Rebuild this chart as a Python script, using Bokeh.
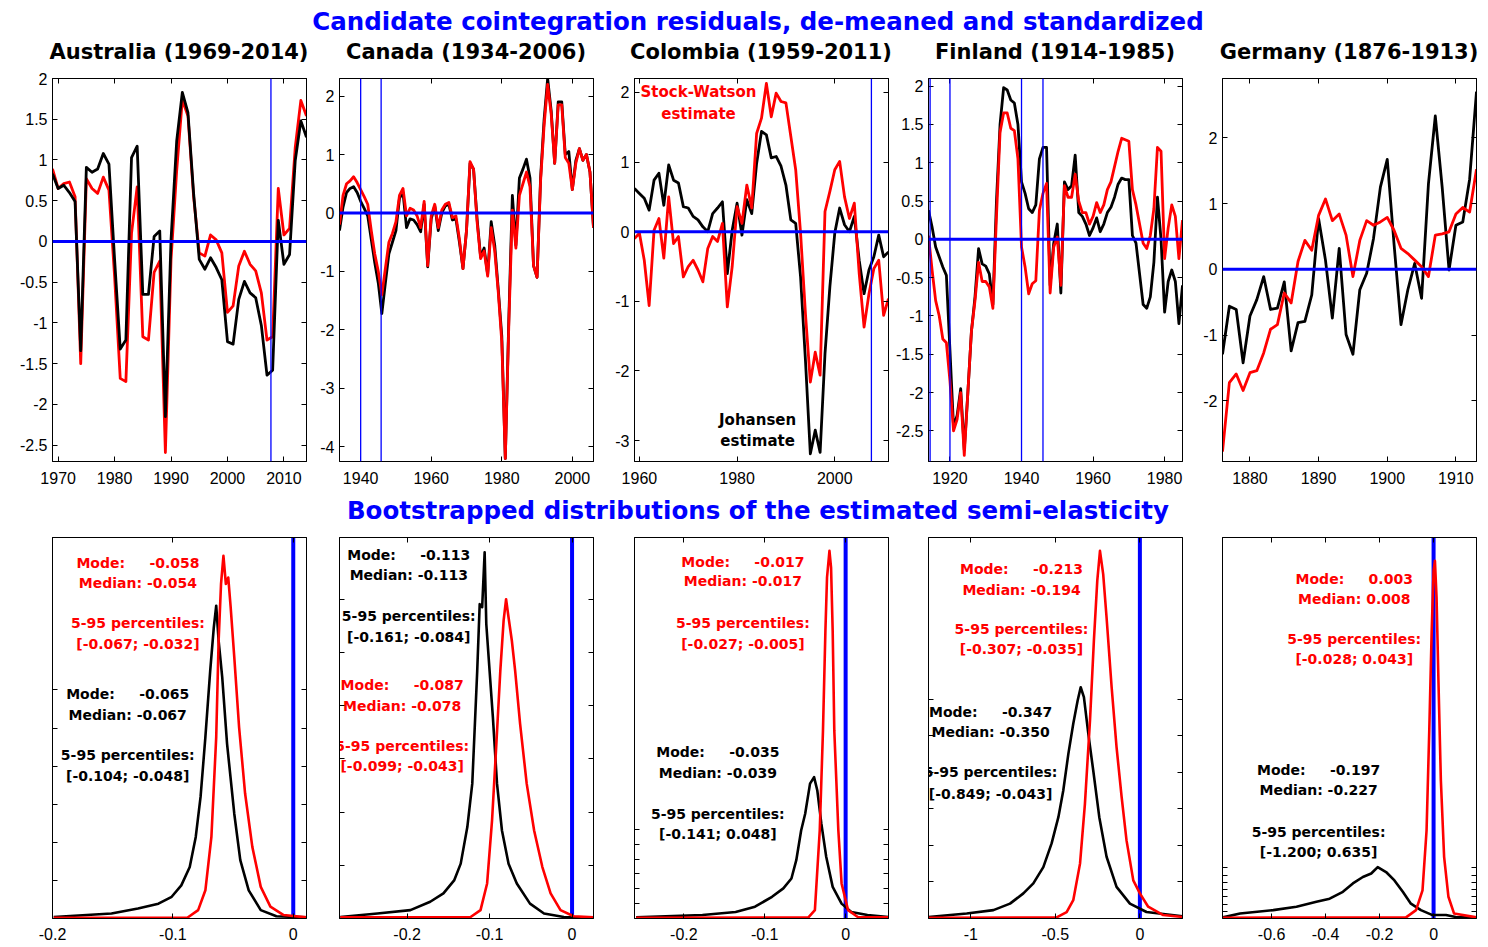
from bokeh.plotting import figure
from bokeh.models import Span, FixedTicker, LinearAxis, Div, ColumnDataSource, Range1d
from bokeh.layouts import column, row
from bokeh.embed import file_html
from bokeh.resources import INLINE
from bokeh.core.properties import value

# ---------------------------------------------------------------- titles
main_title = "Candidate cointegration residuals, de-meaned and standardized"
sub_title = "Bootstrapped distributions of the estimated semi-elasticity"
panel_titles = ["Australia (1969-2014)", "Canada (1934-2006)", "Colombia (1959-2011)",
                "Finland (1914-1985)", "Germany (1876-1913)"]

# ---------------------------------------------------------------- top row data
aus_years = list(range(1969, 2015))
aus_johansen = [0.83, 0.65, 0.69, 0.60, 0.49, -1.34, 0.91, 0.85, 0.89, 1.08, 0.95, -0.22,
                -1.32, -1.21, 1.03, 1.17, -0.65, -0.65, 0.06, 0.13, -2.15, 0.02, 1.23, 1.83,
                1.58, 0.59, -0.22, -0.34, -0.20, -0.32, -0.47, -1.23, -1.26, -0.71, -0.49,
                -0.63, -0.69, -1.03, -1.64, -1.58, 0.26, -0.28, -0.16, 0.99, 1.48, 1.28]
aus_stock_watson = [0.89, 0.65, 0.71, 0.73, 0.55, -1.50, 0.77, 0.65, 0.59, 0.79, 0.63, -0.43,
                    -1.68, -1.72, 0.10, 0.67, -1.17, -1.21, -0.38, -0.24, -2.59, -0.22, 0.87,
                    1.74, 1.54, 0.55, -0.14, -0.18, 0.08, 0.02, -0.14, -0.87, -0.79, -0.30,
                    -0.12, -0.28, -0.36, -0.63, -1.21, -1.17, 0.65, 0.08, 0.16, 1.15, 1.73, 1.54]
aus_breaks = [2007.7]
aus_xticks = [1970, 1980, 1990, 2000, 2010]
aus_yticks = [-2.5, -2, -1.5, -1, -0.5, 0, 0.5, 1, 1.5, 2]
aus_ylabels = ["-2.5", "-2", "-1.5", "-1", "-0.5", "0", "0.5", "1", "1.5", "2"]

can_years = list(range(1934, 2007))
can_johansen = [-0.30, 0.10, 0.35, 0.42, 0.45, 0.35, 0.20, 0.08, -0.05, -0.45,
                -0.85, -1.20, -1.72, -1.20, -0.70, -0.50, -0.30, 0.25, 0.35, -0.25,
                -0.10, -0.12, -0.20, -0.32, 0.15, -0.92, -0.10, 0.12, -0.30, 0.00,
                0.12, 0.15, -0.12, -0.10, -0.50, -0.95, -0.30, 0.85, 0.75, -0.10,
                -0.75, -0.60, -1.05, -0.15, -0.55, -1.30, -2.10, -4.20, -1.80, 0.30,
                -0.55, 0.60, 0.75, 0.92, 0.60, -0.90, -1.10, 0.60, 1.60, 2.30,
                1.75, 0.85, 1.90, 1.90, 1.00, 1.05, 0.40, 0.90, 1.10, 0.90,
                1.00, 0.70, -0.25]
can_stock_watson = [-0.20, 0.30, 0.50, 0.55, 0.62, 0.52, 0.40, 0.28, 0.15, -0.30,
                    -0.70, -1.00, -1.40, -0.95, -0.50, -0.35, -0.15, 0.30, 0.42, -0.05,
                    0.08, 0.05, -0.05, -0.25, 0.20, -0.90, -0.05, 0.15, -0.25, 0.05,
                    0.15, 0.18, -0.08, -0.05, -0.45, -0.95, -0.30, 0.88, 0.75, -0.15,
                    -0.78, -0.65, -1.08, -0.25, -0.65, -1.35, -2.20, -4.20, -1.90, 0.05,
                    -0.60, 0.30, 0.50, 0.70, 0.45, -0.90, -1.10, 0.55, 1.50, 2.20,
                    1.70, 0.85, 1.85, 1.85, 0.95, 0.85, 0.40, 0.85, 1.10, 0.90,
                    1.00, 0.70, -0.25]
can_breaks = [1940.0, 1945.8]
can_xticks = [1940, 1960, 1980, 2000]
can_yticks = [-4, -3, -2, -1, 0, 1, 2]
can_ylabels = ["-4", "-3", "-2", "-1", "0", "1", "2"]

col_years = list(range(1959, 2012))
col_johansen = [0.62, 0.55, 0.48, 0.31, 0.74, 0.84, 0.38, 0.96, 0.74, 0.70,
                0.36, 0.34, 0.22, 0.17, 0.07, 0.00, 0.26, 0.34, 0.43, -0.60,
                0.02, 0.41, -0.05, 0.46, 0.26, 0.98, 1.44, 1.39, 1.06, 1.08,
                0.94, 0.67, 0.17, 0.12, -0.65, -1.85, -3.19, -2.85, -3.17, -1.75,
                -0.79, -0.02, 0.34, 0.10, 0.00, 0.22, -0.41, -0.89, -0.55, -0.36,
                -0.05, -0.36, -0.29]
col_stock_watson = [-0.10, -0.02, -0.41, -1.06, 0.02, 0.19, -0.38, 0.50, -0.17, -0.07,
                    -0.65, -0.50, -0.41, -0.55, -0.72, -0.24, -0.07, -0.14, 0.12, -1.08,
                    -0.50, 0.36, 0.12, 0.67, 0.34, 1.41, 1.63, 2.13, 1.65, 1.99,
                    1.87, 1.85, 1.37, 0.89, -0.02, -1.18, -2.16, -1.73, -2.06, 0.29,
                    0.58, 0.89, 1.01, 0.50, 0.19, 0.41, -0.60, -1.37, -0.89, -0.53,
                    -0.41, -1.20, -0.96]
col_breaks = [2007.5]
col_xticks = [1960, 1980, 2000]
col_yticks = [-3, -2, -1, 0, 1, 2]
col_ylabels = ["-3", "-2", "-1", "0", "1", "2"]

fin_years = list(range(1914, 1986))
fin_johansen = [0.38, 0.16, -0.10, -0.23, -0.36, -0.47, -1.45, -2.45, -2.30, -1.95,
                -2.75, -2.00, -1.20, -0.75, -0.12, -0.32, -0.35, -0.45, -0.85, 0.50,
                1.50, 1.98, 1.95, 1.82, 1.78, 1.50, 0.75, 0.60, 0.40, 0.35,
                0.45, 1.05, 1.20, 1.20, -0.60, -0.05, 0.20, -0.70, 0.75, 0.65,
                0.70, 1.10, 0.35, 0.30, 0.20, 0.05, 0.15, 0.28, 0.10, 0.20,
                0.35, 0.42, 0.55, 0.72, 0.80, 0.78, 0.78, 0.05, -0.05, -0.45,
                -0.85, -0.90, -0.75, -0.30, 0.55, 0.00, -0.95, -0.55, -0.40, -0.55,
                -1.10, -0.60]
fin_stock_watson = [0.05, -0.40, -0.80, -1.00, -1.30, -1.35, -1.85, -2.50, -2.35, -2.00,
                    -2.82, -2.00, -1.20, -0.80, -0.30, -0.55, -0.55, -0.62, -0.90, 0.30,
                    1.40, 1.65, 1.65, 1.45, 1.42, 1.05, -0.10, -0.36, -0.71, -0.58,
                    -0.54, 0.38, 0.60, 0.73, -0.70, -0.10, 0.03, -0.60, 0.70, 0.55,
                    0.55, 0.85, 0.50, 0.35, 0.35, 0.20, 0.30, 0.48, 0.35, 0.45,
                    0.65, 0.75, 0.95, 1.15, 1.32, 1.30, 1.28, 0.65, 0.45, 0.20,
                    -0.05, -0.12, 0.05, 0.40, 1.20, 1.15, -0.25, 0.15, 0.45, 0.30,
                    -0.25, 0.25]
fin_breaks = [1914.45, 1920.0, 1940.0, 1946.0]
fin_xticks = [1920, 1940, 1960, 1980]
fin_yticks = [-2.5, -2, -1.5, -1, -0.5, 0, 0.5, 1, 1.5, 2]
fin_ylabels = ["-2.5", "-2", "-1.5", "-1", "-0.5", "0", "0.5", "1", "1.5", "2"]

ger_years = list(range(1876, 1914))
ger_johansen = [-1.29, -0.56, -0.61, -1.42, -0.71, -0.46, -0.11, -0.61, -0.59, -0.19,
                -1.24, -0.81, -0.79, -0.39, 0.77, 0.14, -0.74, 0.32, -0.99, -1.29,
                -0.31, -0.06, 0.47, 1.25, 1.67, 0.37, -0.84, -0.31, 0.09, -0.44,
                1.30, 2.33, 1.25, -0.01, 0.67, 0.72, 1.37, 2.70]
ger_stock_watson = [-2.77, -1.72, -1.59, -1.84, -1.57, -1.54, -1.27, -0.91, -0.84, -0.36,
                    -0.51, 0.12, 0.44, 0.29, 0.82, 1.07, 0.74, 0.84, 0.52, -0.11,
                    0.44, 0.74, 0.67, 0.72, 0.79, 0.59, 0.32, 0.24, 0.14, 0.04,
                    -0.11, 0.52, 0.54, 0.57, 0.84, 0.94, 0.87, 1.52]
ger_breaks = []
ger_xticks = [1880, 1890, 1900, 1910]
ger_yticks = [-2, -1, 0, 1, 2]
ger_ylabels = ["-2", "-1", "0", "1", "2"]

top_xranges = [(1969, 2014), (1934, 2006), (1959, 2011), (1914, 1985), (1876, 1913)]
top_yranges = [(-2.7, 2.0), (-4.25, 2.3), (-3.3, 2.2), (-2.9, 2.1), (-2.92, 2.9)]

# series-name labels drawn inside the Colombia panel
col_labels_sw = ["Stock-Watson", "estimate"]
col_labels_sw_pos = (1972.1, [2.0, 1.69])
col_labels_jo = ["Johansen", "estimate"]
col_labels_jo_pos = (1984.2, [-2.71, -3.01])

# ---------------------------------------------------------------- bottom row data
# semi-elasticity value (x) and bootstrap frequency in % of panel height (y)
aus_boot_jo_x = [-0.199, -0.151, -0.129, -0.112, -0.101, -0.093, -0.086, -0.081, -0.077, -0.073,
                 -0.069, -0.066, -0.064, -0.062, -0.059, -0.055, -0.049, -0.044, -0.037, -0.027,
                 -0.014, 0.011]
aus_boot_jo_y = [0.4, 1.3, 2.6, 3.9, 5.7, 8.7, 13.5, 21.4, 31.9, 47.6,
                 65.0, 76.4, 82.1, 72.9, 63.3, 45.9, 27.5, 15.3, 7.4, 2.2, 0.6, 0.3]
aus_boot_sw_x = [-0.199, -0.088, -0.079, -0.073, -0.068, -0.064, -0.062, -0.060, -0.058, -0.056,
                 -0.054, -0.052, -0.049, -0.045, -0.040, -0.034, -0.027, -0.019, -0.008, 0.011]
aus_boot_sw_y = [0.2, 0.2, 2.2, 7.4, 21.4, 47.6, 72.9, 87.8, 95.2, 87.8,
                 89.5, 81.7, 68.6, 50.2, 32.8, 18.8, 8.3, 3.1, 0.9, 0.3]

can_boot_jo_x = [-0.281, -0.236, -0.196, -0.172, -0.156, -0.143, -0.135, -0.127, -0.121, -0.115,
                 -0.112, -0.109, -0.106, -0.104, -0.100, -0.096, -0.091, -0.085, -0.077, -0.067,
                 -0.051, -0.034, -0.010, 0.026]
can_boot_jo_y = [0.4, 1.3, 2.2, 4.4, 6.6, 10.0, 14.4, 24.0, 35.4, 65.0,
                 82.5, 81.7, 96.1, 77.3, 65.0, 52.8, 35.4, 23.1, 14.4, 9.2,
                 3.9, 1.3, 0.4, 0.3]
can_boot_sw_x = [-0.281, -0.123, -0.111, -0.103, -0.097, -0.092, -0.087, -0.083, -0.080, -0.077,
                 -0.073, -0.069, -0.063, -0.055, -0.046, -0.036, -0.026, -0.014, 0.002, 0.026]
can_boot_sw_y = [0.3, 0.4, 2.2, 9.2, 25.8, 45.0, 65.0, 78.2, 83.8, 79.0,
                 72.9, 65.0, 51.1, 35.4, 23.1, 13.5, 6.6, 2.2, 0.6, 0.3]

col_boot_jo_x = [-0.259, -0.177, -0.136, -0.112, -0.091, -0.077, -0.067, -0.061, -0.055, -0.050,
                 -0.044, -0.039, -0.035, -0.030, -0.024, -0.016, -0.005, 0.007, 0.027, 0.053]
col_boot_jo_y = [0.3, 0.9, 1.7, 3.1, 5.7, 7.9, 10.5, 15.3, 23.1, 27.5,
                 35.4, 37.1, 33.6, 24.9, 16.2, 8.3, 3.9, 1.7, 0.9, 0.4]
col_boot_sw_x = [-0.259, -0.046, -0.038, -0.032, -0.028, -0.025, -0.023, -0.020, -0.018, -0.016,
                 -0.014, -0.009, -0.005, 0.003, 0.015, 0.053]
col_boot_sw_y = [0.2, 0.3, 2.2, 23.1, 49.3, 75.5, 89.5, 96.5, 92.1, 75.5,
                 49.3, 23.1, 9.2, 2.2, 0.4, 0.3]

fin_boot_jo_x = [-1.25, -1.024, -0.866, -0.768, -0.689, -0.630, -0.571, -0.522, -0.482, -0.453,
                 -0.423, -0.394, -0.368, -0.350, -0.331, -0.305, -0.276, -0.240, -0.197, -0.138,
                 -0.059, 0.039, 0.252]
fin_boot_jo_y = [0.4, 1.3, 2.2, 3.9, 6.6, 9.2, 13.5, 19.7, 26.6, 33.6,
                 43.2, 51.1, 57.2, 60.7, 58.1, 48.5, 38.9, 26.6, 16.2, 8.3,
                 3.9, 1.7, 0.6]
fin_boot_sw_x = [-1.25, -0.492, -0.433, -0.394, -0.354, -0.325, -0.295, -0.272, -0.252, -0.236,
                 -0.217, -0.197, -0.167, -0.138, -0.108, -0.079, -0.039, 0.0, 0.049, 0.138, 0.252]
fin_boot_sw_y = [0.2, 0.3, 1.7, 4.8, 14.4, 30.1, 52.0, 72.9, 88.6, 96.5,
                 90.4, 79.0, 60.7, 45.0, 31.9, 20.5, 10.0, 6.6, 3.1, 0.9, 0.4]

ger_boot_jo_x = [-0.78, -0.717, -0.594, -0.508, -0.434, -0.385, -0.336, -0.299, -0.262, -0.231,
                 -0.207, -0.176, -0.145, -0.114, -0.084, -0.047, -0.004, 0.046, 0.082, 0.159]
ger_boot_jo_y = [0.3, 1.3, 2.2, 3.1, 4.4, 5.2, 7.0, 9.2, 10.9, 11.8,
                 13.5, 12.2, 10.0, 7.0, 3.9, 2.2, 0.9, 0.9, 0.4, 0.2]
ger_boot_sw_x = [-0.78, -0.102, -0.065, -0.041, -0.026, -0.016, -0.007, 0.0, 0.005, 0.011,
                 0.018, 0.027, 0.039, 0.055, 0.076, 0.159]
ger_boot_sw_y = [0.2, 0.3, 2.2, 7.4, 23.1, 49.3, 75.5, 91.3, 93.9, 84.3,
                 62.4, 36.2, 16.2, 5.7, 1.3, 0.3]

bot_xranges = [(-0.2, 0.011), (-0.282, 0.026), (-0.261, 0.053), (-1.25, 0.252), (-0.782, 0.159)]
bot_xticks = [[-0.2, -0.1, 0], [-0.2, -0.1, 0], [-0.2, -0.1, 0], [-1, -0.5, 0], [-0.6, -0.4, -0.2, 0]]
bot_xlabels = [["-0.2", "-0.1", "0"], ["-0.2", "-0.1", "0"], ["-0.2", "-0.1", "0"],
               ["-1", "-0.5", "0"], ["-0.6", "-0.4", "-0.2", "0"]]
bot_yticks = [[10, 20, 30, 40, 50, 60], [14, 27.9, 41.9, 55.8, 69.7, 83.6],
              [3.9, 7.8, 11.7, 15.6, 19.5, 23.4], [9.6, 19.2, 28.8, 38.4, 48, 57.6],
              [1.9, 3.8, 5.7, 7.6, 9.5, 11.4, 13.3]]

# summary statistics printed in each panel (Stock-Watson in red, Johansen in black)
sw_mode = ["-0.058", "-0.087", "-0.017", "-0.213", "0.003"]
sw_median = ["-0.054", "-0.078", "-0.017", "-0.194", "0.008"]
sw_pct = ["[-0.067; -0.032]", "[-0.099; -0.043]", "[-0.027; -0.005]", "[-0.307; -0.035]", "[-0.028; 0.043]"]
jo_mode = ["-0.065", "-0.113", "-0.035", "-0.347", "-0.197"]
jo_median = ["-0.067", "-0.113", "-0.039", "-0.350", "-0.227"]
jo_pct = ["[-0.104; -0.048]", "[-0.161; -0.084]", "[-0.141; 0.048]", "[-0.849; -0.043]", "[-1.200; 0.635]"]
# text block anchors: (x centre, y of the four lines)
sw_text_pos = [(-0.129, [93.4, 88.1, 77.6, 72.1]), (-0.206, [61.4, 55.9, 45.4, 39.9]),
               (-0.127, [93.7, 88.5, 77.6, 72.1]), (-0.70, [91.7, 86.2, 76.0, 70.7]),
               (-0.294, [89.1, 83.8, 73.4, 68.1])]
jo_text_pos = [(-0.1375, [58.8, 53.3, 42.8, 37.3]), (-0.198, [95.5, 90.2, 79.5, 74.0]),
               (-0.158, [43.7, 38.2, 27.5, 22.1]), (-0.883, [54.1, 48.9, 38.4, 32.8]),
               (-0.426, [38.9, 33.6, 22.7, 17.5])]

# ---------------------------------------------------------------- layout constants
BOUNDS = [0, 313, 608, 892, 1186, 1480]
FRAME_LEFT = [52, 339, 634, 928, 1222]
FRAME_W = 254
RED = "#ff0000"
BLUE = "#0000ff"
TICK_FONT = "Liberation Sans"
BOLD_FONT = "DejaVu Sans"


def style_axis(ax, ticks, labels=None, standoff=5, hidden=False):
    ax.ticker = FixedTicker(ticks=list(ticks))
    if labels is not None:
        ax.major_label_overrides = {float(t): l for t, l in zip(ticks, labels)}
    ax.major_tick_in = 5
    ax.major_tick_out = 0
    ax.minor_tick_line_color = None
    ax.axis_line_color = "black"
    ax.major_tick_line_color = "black"
    ax.major_label_text_font = TICK_FONT
    ax.major_label_text_font_size = "16px"
    ax.major_label_standoff = standoff
    if hidden:
        ax.major_label_text_color = None
        ax.major_label_text_alpha = 0
    else:
        ax.major_label_text_color = "black"


def add_mirrors(p, xticks, yticks):
    top = LinearAxis()
    style_axis(top, xticks, None, 0, hidden=True)
    p.add_layout(top, "above")
    right = LinearAxis()
    style_axis(right, yticks, None, 0, hidden=True)
    p.add_layout(right, "right")


def base_figure(i, height, xr, yr, btop, bbottom):
    w = BOUNDS[i + 1] - BOUNDS[i]
    left = FRAME_LEFT[i] - BOUNDS[i]
    right = w - left - FRAME_W
    p = figure(width=w, height=height, x_range=Range1d(*xr), y_range=Range1d(*yr),
               output_backend="svg", toolbar_location=None,
               min_border_left=left, min_border_right=right,
               min_border_top=btop, min_border_bottom=bbottom)
    p.xgrid.visible = False
    p.ygrid.visible = False
    p.outline_line_color = "black"
    p.outline_line_alpha = 1.0
    p.outline_line_width = 1
    p.background_fill_color = "white"
    p.border_fill_color = "white"
    return p


def panel_title_div(i, text):
    w = BOUNDS[i + 1] - BOUNDS[i]
    left = FRAME_LEFT[i] - BOUNDS[i]
    html = ('<div style="box-sizing:border-box;width:280px;margin-left:%dpx;text-align:center;'
            'white-space:nowrap;font-family:\'DejaVu Sans\';font-weight:bold;font-size:21px;'
            'color:#000000;line-height:28px;">%s</div>' % (left - 13, text))
    return Div(text=html, width=w, height=30, margin=(0, 0, 0, 0))


top_data = [
    (aus_years, aus_stock_watson, aus_johansen, aus_breaks, aus_xticks, aus_yticks, aus_ylabels, False),
    (can_years, can_stock_watson, can_johansen, can_breaks, can_xticks, can_yticks, can_ylabels, True),
    (col_years, col_stock_watson, col_johansen, col_breaks, col_xticks, col_yticks, col_ylabels, True),
    (fin_years, fin_stock_watson, fin_johansen, fin_breaks, fin_xticks, fin_yticks, fin_ylabels, True),
    (ger_years, ger_stock_watson, ger_johansen, ger_breaks, ger_xticks, ger_yticks, ger_ylabels, True),
]

tops = []
for i, (yrs, sw, jo, brk, xt, yt, yl, sw_top) in enumerate(top_data):
    p = base_figure(i, 421, top_xranges[i], top_yranges[i], 10, 28)
    style_axis(p.xaxis[0], xt, [str(t) for t in xt], 10)
    style_axis(p.yaxis[0], yt, yl, 5)
    add_mirrors(p, xt, yt)
    src = ColumnDataSource(dict(year=yrs, sw=sw, jo=jo))
    order = [("jo", "black"), ("sw", RED)] if sw_top else [("sw", RED), ("jo", "black")]
    for col, c in order:
        p.line("year", col, source=src, line_color=c, line_width=2.8, line_join="round")
    p.add_layout(Span(location=0, dimension="width", line_color=BLUE, line_width=3))
    for b in brk:
        p.add_layout(Span(location=b, dimension="height", line_color=BLUE, line_width=1.3))
    if i == 2:
        for labels, (lx, lys), c in ((col_labels_sw, col_labels_sw_pos, RED),
                                     (col_labels_jo, col_labels_jo_pos, "black")):
            p.text(x=[lx] * len(labels), y=lys, text=labels, text_font=value(BOLD_FONT),
                   text_font_size="15px", text_font_style="bold", text_color=c,
                   text_align="center", text_baseline="middle")
    tops.append(p)

bot_data = [
    (aus_boot_sw_x, aus_boot_sw_y, aus_boot_jo_x, aus_boot_jo_y),
    (can_boot_sw_x, can_boot_sw_y, can_boot_jo_x, can_boot_jo_y),
    (col_boot_sw_x, col_boot_sw_y, col_boot_jo_x, col_boot_jo_y),
    (fin_boot_sw_x, fin_boot_sw_y, fin_boot_jo_x, fin_boot_jo_y),
    (ger_boot_sw_x, ger_boot_sw_y, ger_boot_jo_x, ger_boot_jo_y),
]

NB = "\u00a0"
bottoms = []
for i, (sx, sy, jx, jy) in enumerate(bot_data):
    p = base_figure(i, 420, bot_xranges[i], (0, 100), 12, 27)
    style_axis(p.xaxis[0], bot_xticks[i], bot_xlabels[i], 9)
    style_axis(p.yaxis[0], bot_yticks[i], None, 0, hidden=True)
    add_mirrors(p, bot_xticks[i], bot_yticks[i])
    p.add_layout(Span(location=0, dimension="height", line_color=BLUE, line_width=4, level="underlay"))
    p.line(jx, jy, line_color="black", line_width=2.6, line_join="round")
    p.line(sx, sy, line_color=RED, line_width=2.6, line_join="round")
    blocks = [
        (sw_text_pos[i], RED, ["Mode:" + NB * 4 + " " + sw_mode[i], "Median: " + sw_median[i],
                               "5-95 percentiles:", sw_pct[i]]),
        (jo_text_pos[i], "black", ["Mode:" + NB * 4 + " " + jo_mode[i], "Median: " + jo_median[i],
                                   "5-95 percentiles:", jo_pct[i]]),
    ]
    for (tx, tys), c, lines in blocks:
        p.text(x=[tx] * 4, y=tys, text=lines, text_font=value(BOLD_FONT),
               text_font_size="14px", text_font_style="bold", text_color=c,
               text_align="center", text_baseline="middle")
    bottoms.append(p)


def title_div(text, height, shift):
    html = ('<div style="display:block;box-sizing:border-box;width:1480px;'
            'font-family:\'DejaVu Sans\';font-weight:bold;font-size:24.5px;'
            'color:#0000ff;white-space:nowrap;text-align:center;padding-left:36px;'
            'line-height:%dpx;position:relative;top:%dpx;">%s</div>' % (height, shift, text))
    return Div(text=html, width=1480, height=height, margin=(0, 0, 0, 0))


layout = column(title_div(main_title, 38, 3),
                row(*[panel_title_div(i, t) for i, t in enumerate(panel_titles)], spacing=0),
                row(*tops, spacing=0),
                title_div(sub_title, 36, 4),
                row(*bottoms, spacing=0),
                spacing=0)

open("out.html", "w").write(file_html(layout, INLINE, title="Cointegration residuals"))
